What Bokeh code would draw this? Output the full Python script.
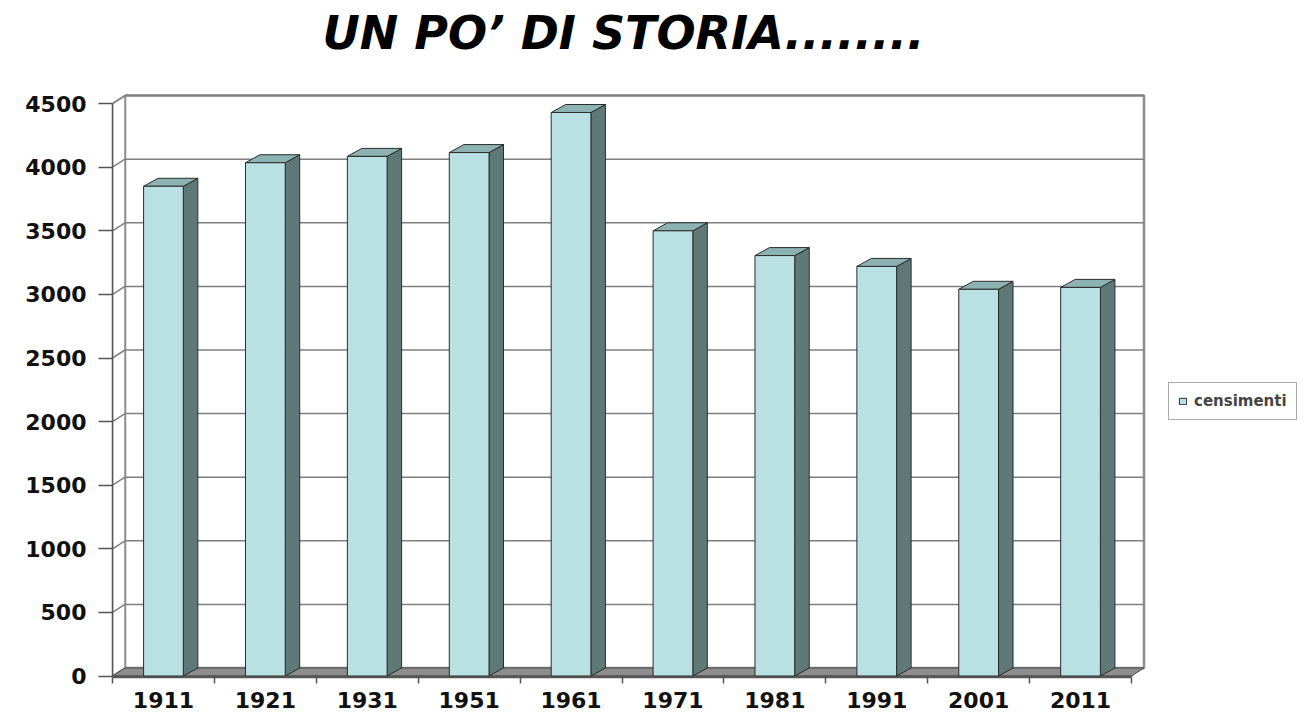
from bokeh.plotting import figure
from bokeh.models import Range1d, LinearAxis, FixedTicker, Legend, LegendItem, ColumnDataSource
from bokeh.embed import file_html
from bokeh.resources import INLINE

# ---------------- data ----------------
years = ["1911", "1921", "1931", "1951", "1961", "1971", "1981", "1991", "2001", "2011"]
censimenti = [3850, 4035, 4085, 4115, 4430, 3500, 3305, 3220, 3040, 3055]
y_ticks = [0, 500, 1000, 1500, 2000, 2500, 3000, 3500, 4000, 4500]
title_text = "UN PO\u2019 DI STORIA........"
series_name = "censimenti"

# ---------------- layout constants ----------------
W, H = 1310, 717
ML, MB, MT = 112, 40, 63
PX_CAT = 101.9      # pixels per category
PX_VAL = 0.1272     # pixels per unit
frame_w = W - ML
frame_h = H - MB - MT
y0 = -1.5 / PX_VAL

n = len(years)
xs = list(range(n))
y_max = y_ticks[-1]

# 3D depth offsets (in data units)
WDX, WDY = 12.5 / PX_CAT, 8.0 / PX_VAL     # walls
BDX, BDY = 14.5 / PX_CAT, 8.0 / PX_VAL     # bars
BW = 0.39                                  # bar width in categories
SLAB = 1.5 / PX_VAL

FONT = "DejaVu Sans"

p = figure(width=W, height=H,
           x_range=Range1d(-0.5, -0.5 + frame_w / PX_CAT),
           y_range=Range1d(y0, y0 + frame_h / PX_VAL),
           x_axis_type=None, y_axis_type=None,
           output_backend="svg", toolbar_location=None,
           min_border_left=ML, min_border_right=0,
           min_border_bottom=MB, min_border_top=MT,
           background_fill_color="white", border_fill_color="white",
           outline_line_color=None)

# title
p.title.text = title_text
p.title.align = "left"
p.title.offset = 210
p.title.text_font = FONT
p.title.text_font_size = "46px"
p.title.text_font_style = "bold italic"
p.title.text_color = "black"
p.title.standoff = 7

x_left, x_right = -0.5, n - 0.5

# back wall
p.quad(left=[x_left + WDX], right=[x_right + WDX], bottom=[WDY], top=[y_max + WDY],
       fill_color="white", line_color="#8c8c8c", line_width=2.5)
# left wall
p.patch(x=[x_left, x_left + WDX, x_left + WDX, x_left],
        y=[0, WDY, y_max + WDY, y_max],
        fill_color="white", line_color="#8c8c8c", line_width=1.5)
# gridlines on back wall and left wall
gt = [t for t in y_ticks if t > 0]
p.segment(x0=[x_left + WDX] * len(gt), y0=[t + WDY for t in gt],
          x1=[x_right + WDX] * len(gt), y1=[t + WDY for t in gt],
          line_color="#7f7f7f", line_width=1.5)
p.segment(x0=[x_left] * len(gt), y0=gt,
          x1=[x_left + WDX] * len(gt), y1=[t + WDY for t in gt],
          line_color="#7f7f7f", line_width=1.5)

# floor
p.patch(x=[x_left, x_right, x_right + WDX, x_left + WDX],
        y=[0, 0, WDY, WDY],
        fill_color="#8e8e8e", line_color="#4a4a4a", line_width=1)
p.patch(x=[x_left, x_right, x_right, x_left],
        y=[-SLAB, -SLAB, 0, 0],
        fill_color="#6e6e6e", line_color="#4a4a4a", line_width=1)

# bars
sides_x, sides_y, tops_x, tops_y = [], [], [], []
for x, v in zip(xs, censimenti):
    l, r = x - BW / 2, x + BW / 2
    sides_x.append([r, r + BDX, r + BDX, r])
    sides_y.append([0, BDY, v + BDY, v])
    tops_x.append([l, r, r + BDX, l + BDX])
    tops_y.append([v, v, v + BDY, v + BDY])

p.patches(xs=sides_x, ys=sides_y, fill_color="#5f7878", line_color="#2b2b2b", line_width=1)
p.patches(xs=tops_x, ys=tops_y, fill_color="#8cb2b4", line_color="#2b2b2b", line_width=1)
src = ColumnDataSource(dict(x=xs, v=censimenti, year=years))
front = p.vbar(x="x", top="v", bottom=0, width=BW, source=src,
               fill_color="#b9e0e3", line_color="#2b2b2b", line_width=1)

# axes
yaxis = LinearAxis(ticker=FixedTicker(ticks=y_ticks), bounds=(0, y_max))
yaxis.axis_line_color = "#555555"
yaxis.axis_line_width = 1.5
yaxis.major_tick_line_color = "#555555"
yaxis.major_tick_line_width = 1.5
yaxis.major_tick_out = 14
yaxis.major_tick_in = 0
yaxis.minor_tick_line_color = None
yaxis.major_label_standoff = 12
yaxis.major_label_text_font = FONT
yaxis.major_label_text_font_size = "22px"
yaxis.major_label_text_font_style = "bold"
yaxis.major_label_text_color = "#111111"
p.add_layout(yaxis, "left")

xaxis = LinearAxis(ticker=FixedTicker(ticks=xs, minor_ticks=[i - 0.5 for i in range(n + 1)]),
                   bounds=(x_left, x_right),
                   major_label_overrides={i: years[i] for i in xs})
xaxis.axis_line_color = "#555555"
xaxis.axis_line_width = 1.5
xaxis.major_tick_line_color = None
xaxis.major_tick_out = 0
xaxis.major_tick_in = 0
xaxis.minor_tick_line_color = "#555555"
xaxis.minor_tick_line_width = 1.5
xaxis.minor_tick_out = 6
xaxis.minor_tick_in = 0
xaxis.major_label_standoff = 8
xaxis.major_label_text_font = FONT
xaxis.major_label_text_font_size = "22px"
xaxis.major_label_text_font_style = "bold"
xaxis.major_label_text_color = "#111111"
p.add_layout(xaxis, "below")

# legend
legend = Legend(items=[LegendItem(label=series_name, renderers=[front])],
                location=(1056, 257), orientation="vertical",
                border_line_color="#555555", border_line_width=1.5,
                background_fill_color="white", background_fill_alpha=1,
                padding=9, margin=0, spacing=0,
                glyph_width=9, glyph_height=8, label_height=14, label_standoff=7,
                label_text_font=FONT, label_text_font_size="15px",
                label_text_font_style="bold", label_text_color="#444444")
p.add_layout(legend)

open("out.html", "w").write(file_html(p, INLINE))
